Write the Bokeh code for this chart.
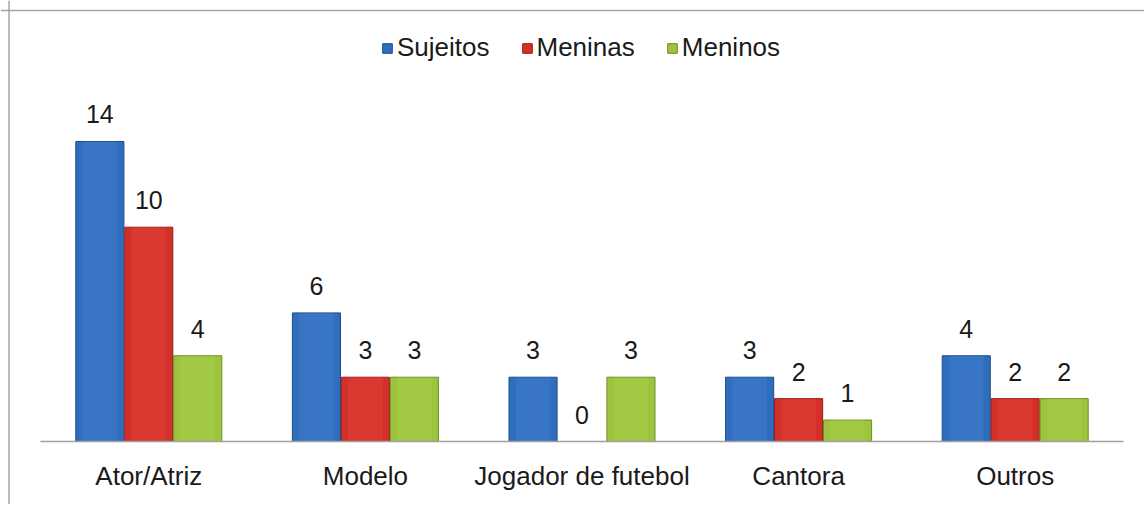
import numpy as np
from bokeh.plotting import figure
from bokeh.models import ColumnDataSource, Range1d, Span, Legend, LegendItem
from bokeh.transform import dodge
from bokeh.core.properties import value
from bokeh.embed import file_html
from bokeh.resources import INLINE

categories = ["Ator/Atriz", "Modelo", "Jogador de futebol", "Cantora", "Outros"]
sujeitos = [14, 6, 3, 3, 4]
meninas = [10, 3, 0, 2, 2]
meninos = [4, 3, 3, 1, 2]
series_names = ["Sujeitos", "Meninas", "Meninos"]

FONT = "Liberation Sans"
W, H = 1144, 504
px_x = 216.6
px_y = 21.43
x0 = -40 / px_x
x1 = x0 + W / px_x
y0 = -(H - 441) / px_y
y1 = 441 / px_y

xs = np.arange(len(categories)) + 0.5
src = ColumnDataSource(dict(
    x=xs, cat=categories,
    s=sujeitos, m=meninas, b=meninos,
    s_lab=[str(v) for v in sujeitos],
    m_lab=[str(v) for v in meninas],
    b_lab=[str(v) for v in meninos],
    zero=[0] * len(categories),
))

p = figure(width=W, height=H, x_range=Range1d(x0, x1), y_range=Range1d(y0, y1),
           output_backend="svg", toolbar_location=None,
           x_axis_location=None, y_axis_location=None, min_border=0)
p.outline_line_color = None
p.xgrid.visible = False
p.ygrid.visible = False
p.background_fill_color = "white"

# chart border (left and top)
p.add_layout(Span(location=x0 + 8.5 / px_x, dimension="height", line_color="#a6a6a6", line_width=1.5))
p.add_layout(Span(location=y1 - 10 / px_y, dimension="width", line_color="#a6a6a6", line_width=1.5))

off = 0.226
bw = 0.222
specs = [("s", -off, "#2f6dbd", "#1d4a85", "#4a86d4"),
         ("m", 0.0, "#d4302a", "#9a1a16", "#e24a40"),
         ("b", off, "#9cc43c", "#6d8c22", "#afd452")]
items = []
for (col, o, fc, lc, hc), name in zip(specs, series_names):
    r = p.vbar(x=dodge("x", o, range=p.x_range), top=col, width=bw, source=src,
               fill_color=fc, line_color=lc, line_width=1)
    # subtle lighter centre to hint at the bevelled look
    p.vbar(x=dodge("x", o, range=p.x_range), top=col, width=bw * 0.72, source=src,
           fill_color=hc, fill_alpha=0.35, line_color=None)
    items.append(LegendItem(label=name, renderers=[r]))
    p.text(x=dodge("x", o, range=p.x_range), y=col, text=col + "_lab", source=src,
           text_font=value(FONT), text_font_size="25px", text_color="#1a1a1a",
           text_align="center", text_baseline="middle", y_offset=-27)

# baseline
p.segment(x0=0, x1=len(categories), y0=0, y1=0, line_color="#a0a0a0", line_width=1.5)

# category labels
p.text(x="x", y="zero", text="cat", source=src, text_font=value(FONT),
       text_font_size="26px", text_color="#1a1a1a", text_align="center",
       text_baseline="middle", y_offset=34)

legend = Legend(items=items, orientation="horizontal", location=(381, H - 63),
                label_text_font=FONT, label_text_font_size="26px",
                label_text_color="#1a1a1a", glyph_width=12, glyph_height=12,
                label_standoff=4, spacing=31, padding=0, margin=0,
                background_fill_alpha=0, border_line_color=None)
p.add_layout(legend)

open("out.html", "w").write(file_html(p, INLINE))
